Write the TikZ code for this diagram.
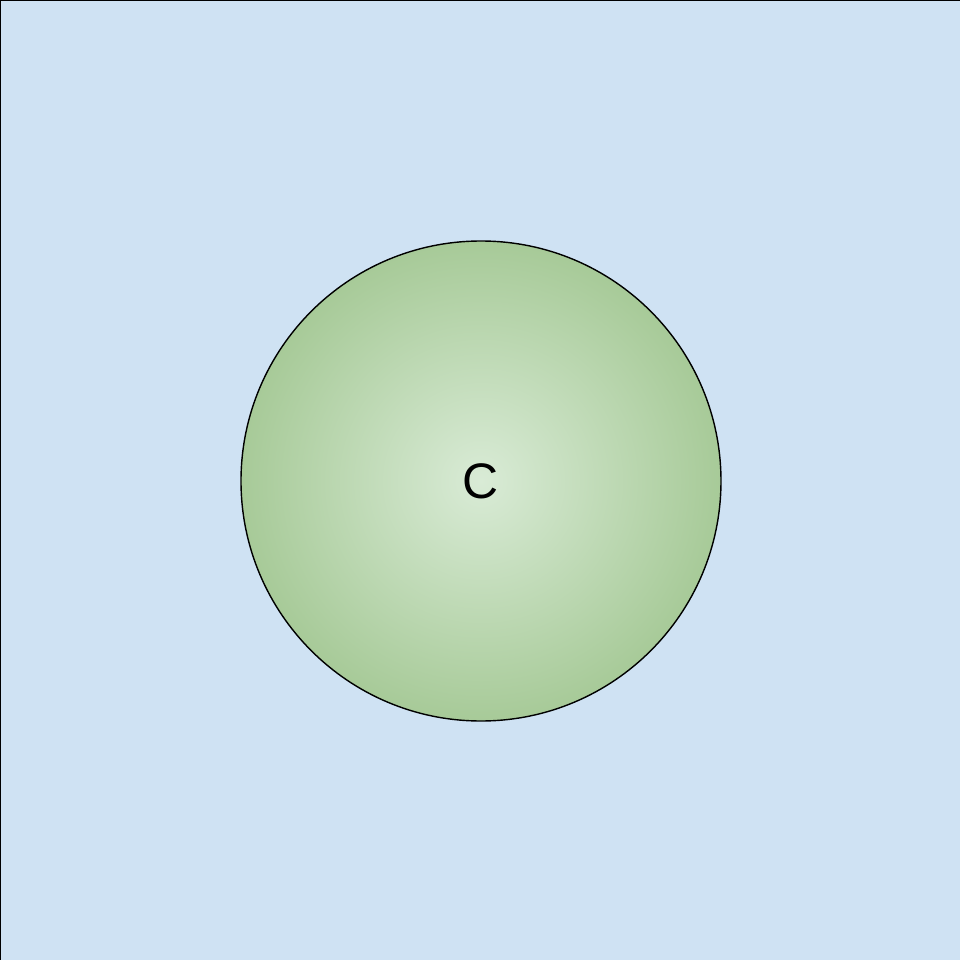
\documentclass[tikz,border=0pt]{standalone}
\usepackage{fontspec}
\setmainfont{Liberation Sans}
\usepackage{xcolor}
\usepackage{tikz}
\usetikzlibrary{positioning}
\definecolor{bgBlue}{HTML}{CFE2F3}
\definecolor{ballInner}{HTML}{D9EBD6}
\definecolor{ballOuter}{HTML}{A7CA98}
\pgfdeclareradialshading{ballShade}{\pgfpoint{0bp}{0bp}}{color(0bp)=(ballInner); color(25bp)=(ballOuter); color(50bp)=(ballOuter)}

\begin{document}
\begin{tikzpicture}[
  font=\fontsize{14.2}{17}\selectfont,
  frame/.style={draw=black,line width=0.5pt,fill=bgBlue},
  ball/.style={circle,draw=black,line width=0.4pt,shading=ballShade,
               minimum size=4.8cm,inner sep=0pt}]

\useasboundingbox (0,0) rectangle (9.6,9.6);
\draw[frame] (0,-0.5) rectangle (10.1,9.6);

\node[ball] (c) at (4.81,4.79) {C};
\end{tikzpicture}
\end{document}
